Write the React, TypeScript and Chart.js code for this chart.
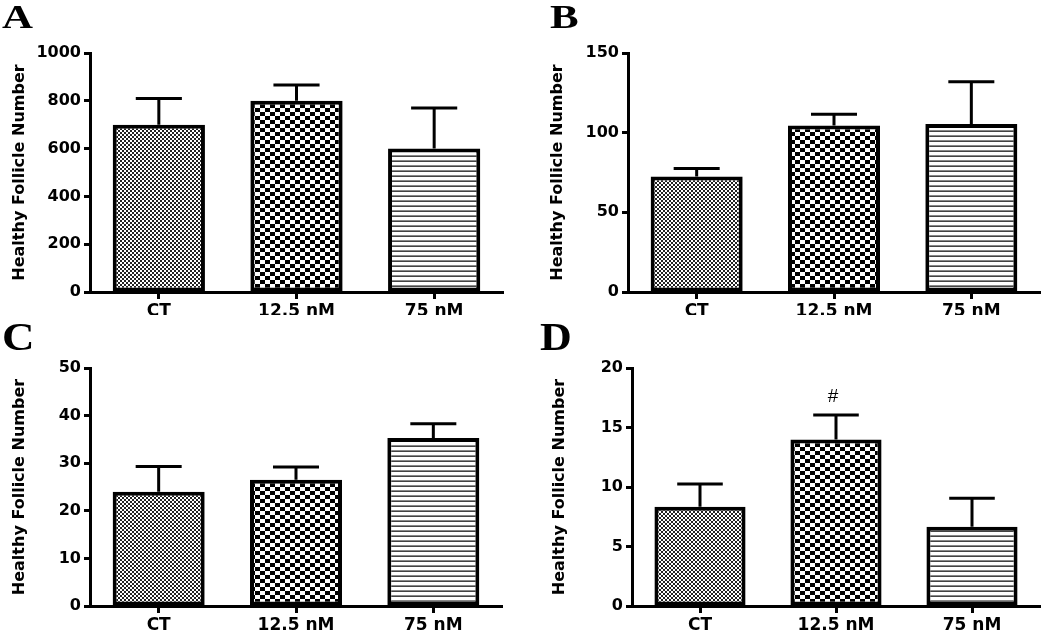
import React, { useEffect, useRef } from 'react';
import { Chart, registerables } from 'chart.js';

Chart.register(...registerables);

// ---------- data ----------
const categories = ['CT', '12.5 nM', '75 nM'];
const yTitle = 'Healthy Follicle Number';

const meansA = [700, 800, 600];
const semA = [110, 66, 170];
const yMaxA = 1000;
const yStepA = 200;

const meansB = [72.5, 104.5, 105.5];
const semB = [5, 7, 26.5];
const yMaxB = 150;
const yStepB = 50;

const meansC = [24, 26.5, 35.3];
const semC = [5.3, 2.7, 3];
const yMaxC = 50;
const yStepC = 10;

const meansD = [8.35, 14.0, 6.65];
const semD = [1.9, 2.05, 2.4];
const yMaxD = 20;
const yStepD = 5;

const marksD = ['', '#', ''];
const noMarks = ['', '', ''];

// ---------- patterns ----------
function makePatterns(ctx: CanvasRenderingContext2D) {
  const fine = document.createElement('canvas');
  fine.width = 4; fine.height = 4;
  let c = fine.getContext('2d')!;
  c.fillStyle = '#fff'; c.fillRect(0, 0, 4, 4);
  c.fillStyle = '#222'; c.fillRect(0, 0, 2, 2); c.fillRect(2, 2, 2, 2);

  const coarse = document.createElement('canvas');
  coarse.width = 10; coarse.height = 8;
  c = coarse.getContext('2d')!;
  c.fillStyle = '#fff'; c.fillRect(0, 0, 10, 8);
  c.fillStyle = '#000'; c.fillRect(0, 0, 5, 4); c.fillRect(5, 4, 5, 4);

  const lines = document.createElement('canvas');
  lines.width = 4; lines.height = 5;
  c = lines.getContext('2d')!;
  c.fillStyle = '#fff'; c.fillRect(0, 0, 4, 5);
  c.fillStyle = '#888'; c.fillRect(0, 0, 4, 1);
  c.fillStyle = '#444'; c.fillRect(0, 1, 4, 1);

  return [
    ctx.createPattern(fine, 'repeat')!,
    ctx.createPattern(coarse, 'repeat')!,
    ctx.createPattern(lines, 'repeat')!,
  ];
}

type PanelProps = {
  left: number; top: number; width: number; height: number;
  letter: string; letterX: number; letterY: number; letterSize: number; letterScale: number;
  means: number[]; sem: number[]; marks: string[];
  yMax: number; yStep: number;
  area: { left: number; right: number; top: number; bottom: number };
  titlePad: number;
};

function Panel(p: PanelProps) {
  const ref = useRef<HTMLCanvasElement | null>(null);
  useEffect(() => {
    const canvas = ref.current!;
    const ctx = canvas.getContext('2d')!;
    const pats = makePatterns(ctx);
    const font = 'DejaVu Sans';

    const errorPlugin = {
      id: 'errbars',
      afterDatasetsDraw(chart: any) {
        const meta = chart.getDatasetMeta(0);
        const ys = chart.scales.y;
        const g = chart.ctx;
        g.save();
        g.strokeStyle = '#000';
        g.lineWidth = 3;
        g.lineCap = 'butt';
        meta.data.forEach((bar: any, i: number) => {
          const x = bar.x;
          const yb = ys.getPixelForValue(p.means[i]);
          const yt = ys.getPixelForValue(p.means[i] + p.sem[i]);
          const half = bar.width / 4;
          g.beginPath();
          g.moveTo(x, yb);
          g.lineTo(x, yt);
          g.moveTo(x - half, yt);
          g.lineTo(x + half, yt);
          g.stroke();
          if (p.marks[i]) {
            g.fillStyle = '#000';
            g.font = '19px "Liberation Sans"';
            g.textAlign = 'center';
            g.textBaseline = 'middle';
            g.fillText(p.marks[i], x - 3, yt - 18);
          }
        });
        g.restore();
      },
      afterDraw(chart: any) {
        const g = chart.ctx;
        g.save();
        g.fillStyle = '#000';
        g.font = `bold ${p.letterSize}px "Liberation Serif"`;
        g.textAlign = 'left';
        g.textBaseline = 'alphabetic';
        g.translate(p.letterX, p.letterY);
        g.scale(p.letterScale, 1);
        g.fillText(p.letter, 0, 0);
        g.restore();
      },
    };

    const chart = new Chart(canvas, {
      type: 'bar',
      data: {
        labels: categories,
        datasets: [
          {
            data: p.means,
            backgroundColor: pats as any,
            borderColor: '#000',
            borderWidth: 4,
            borderSkipped: false,
            barPercentage: 0.67,
            categoryPercentage: 1,
          } as any,
        ],
      },
      options: {
        responsive: false,
        animation: false,
        devicePixelRatio: 1,
        layout: { padding: { left: 0, top: p.area.top, right: p.width - p.area.right, bottom: 0 } },
        plugins: { legend: { display: false }, tooltip: { enabled: false } },
        scales: {
          x: {
            offset: true,
            grid: {
              display: true, drawOnChartArea: false, drawTicks: true,
              tickLength: 7, tickWidth: 3, tickColor: '#000', offset: false,
            },
            border: { display: true, color: '#000', width: 3 },
            ticks: {
              color: '#000', padding: 2, maxRotation: 0,
              font: { family: font, weight: 'bold', size: 17 },
            },
            afterFit: (s: any) => { s.height = p.height - p.area.bottom; },
          },
          y: {
            min: 0, max: p.yMax,
            ticks: {
              stepSize: p.yStep, color: '#000', padding: 3,
              font: { family: font, weight: 'bold', size: 16 },
              callback: (v: any) => String(v),
            },
            grid: {
              display: true, drawOnChartArea: false, drawTicks: true,
              tickLength: 6, tickWidth: 3, tickColor: '#000',
            },
            border: { display: true, color: '#000', width: 3 },
            title: {
              display: true, text: yTitle, color: '#000',
              font: { family: font, weight: 'bold', size: 16 },
              padding: { top: p.titlePad, bottom: 0 },
            },
            afterFit: (s: any) => { s.width = p.area.left; },
          },
        },
      } as any,
      plugins: [errorPlugin],
    });
    return () => chart.destroy();
  }, []);
  return (
    <canvas
      ref={ref}
      width={p.width}
      height={p.height}
      style={{ position: 'absolute', left: p.left, top: p.top, width: p.width, height: p.height }}
    />
  );
}

export default function App() {
  return (
    <div style={{ position: 'absolute', left: 0, top: 0, width: 1050, height: 631, background: '#fff' }}>
      <Panel left={0} top={0} width={525} height={315}
        letter="A" letterX={2} letterY={28} letterSize={33} letterScale={1.3}
        means={meansA} sem={semA} marks={noMarks} yMax={yMaxA} yStep={yStepA}
        area={{ left: 90, right: 503, top: 53, bottom: 292 }} titlePad={10} />
      <Panel left={525} top={0} width={525} height={315}
        letter="B" letterX={25} letterY={28} letterSize={33} letterScale={1.3}
        means={meansB} sem={semB} marks={noMarks} yMax={yMaxB} yStep={yStepB}
        area={{ left: 103, right: 515, top: 53, bottom: 292 }} titlePad={23} />
      <Panel left={0} top={315} width={525} height={316}
        letter="C" letterX={2} letterY={35} letterSize={41} letterScale={1.1}
        means={meansC} sem={semC} marks={noMarks} yMax={yMaxC} yStep={yStepC}
        area={{ left: 90, right: 502, top: 53, bottom: 291 }} titlePad={10} />
      <Panel left={525} top={315} width={525} height={316}
        letter="D" letterX={15} letterY={35} letterSize={40} letterScale={1.1}
        means={meansD} sem={semD} marks={marksD} yMax={yMaxD} yStep={yStepD}
        area={{ left: 107, right: 515, top: 53, bottom: 291 }} titlePad={25} />
    </div>
  );
}
